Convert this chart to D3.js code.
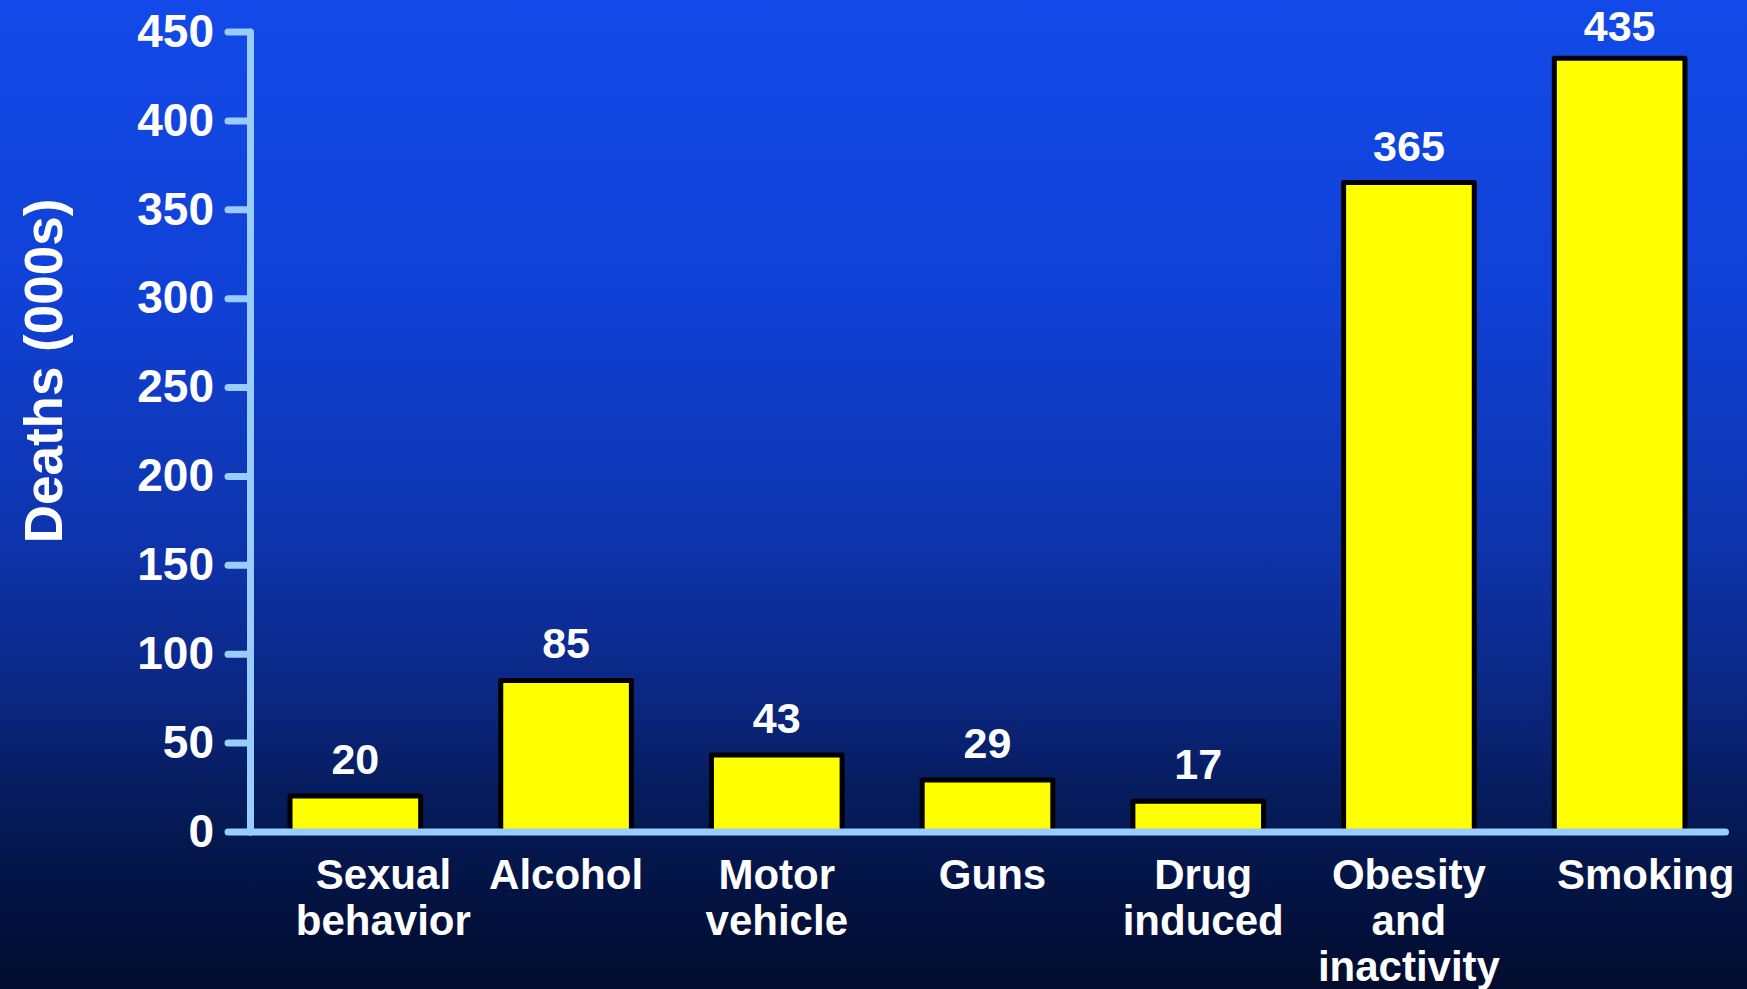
<!DOCTYPE html>
<html>
<head>
<meta charset="utf-8">
<script src="https://cdn.jsdelivr.net/npm/d3@7"></script>
<style>
  html, body { margin: 0; padding: 0; background: #020c2e; }
  svg { display: block; }
  text { font-family: "Liberation Sans", Arial, Helvetica, sans-serif; font-weight: bold; fill: #ffffff; }
</style>
</head>
<body>
<svg id="chart" width="1747" height="989"></svg>
<script>
// Deaths attributable to each cause, in thousands
const categories = [
  ["Sexual", "behavior"],
  ["Alcohol"],
  ["Motor", "vehicle"],
  ["Guns"],
  ["Drug", "induced"],
  ["Obesity", "and", "inactivity"],
  ["Smoking"]
];
const deaths = [20, 85, 43, 29, 17, 365, 435];
const yTicks = [0, 50, 100, 150, 200, 250, 300, 350, 400, 450];
const yTitle = "Deaths (000s)";

const W = 1747, H = 989;
const svg = d3.select("#chart");

// Background: bright blue at the top fading to deep navy
const defs = svg.append("defs");
const grad = defs.append("linearGradient")
  .attr("id", "bg").attr("x1", 0).attr("y1", 0).attr("x2", 0).attr("y2", 1);
[
  [0.00, "#1249e8"],
  [0.30, "#1041d6"],
  [0.55, "#0e34ac"],
  [0.70, "#0b2782"],
  [0.80, "#061c5e"],
  [0.90, "#031343"],
  [1.00, "#020c2e"]
].forEach(([o, c]) => grad.append("stop").attr("offset", o).attr("stop-color", c));
svg.append("rect").attr("width", W).attr("height", H).attr("fill", "url(#bg)");

const axisColor = "#99ccff";
const x0 = 250, x1 = 1725, yBase = 831.5, yTop = 31.5;

const keys = categories.map(c => c.join(" "));
const x = d3.scaleBand().domain(keys).range([x0, x1]).paddingInner(0.38).paddingOuter(0.19);
const y = d3.scaleLinear().domain([0, 450]).range([yBase, yTop]);

// Bars
svg.append("g").selectAll("rect")
  .data(deaths)
  .join("rect")
  .attr("x", (d, i) => x(keys[i]))
  .attr("y", d => y(d))
  .attr("width", x.bandwidth())
  .attr("height", d => y(0) - y(d))
  .attr("fill", "#ffff00")
  .attr("stroke", "#000000")
  .attr("stroke-width", 5)
  .attr("stroke-linejoin", "round");

// Value labels above each bar, kept inside the top edge
svg.append("g").selectAll("text")
  .data(deaths)
  .join("text")
  .attr("x", (d, i) => x(keys[i]) + x.bandwidth() / 2)
  .attr("y", d => Math.max(y(d) - 22, 41))
  .attr("text-anchor", "middle")
  .attr("font-size", 43)
  .text(d => d);

// Y axis
const yAxis = svg.append("g")
  .attr("transform", `translate(${x0},0)`)
  .call(d3.axisLeft(y).tickValues(yTicks).tickSize(22).tickPadding(14).tickSizeOuter(0));
yAxis.select(".domain").attr("stroke", axisColor).attr("stroke-width", 7).attr("stroke-linecap", "round");
yAxis.selectAll(".tick line").attr("stroke", axisColor).attr("stroke-width", 7).attr("stroke-linecap", "round");
yAxis.selectAll(".tick text")
  .attr("font-size", 46)
  .attr("font-family", "'Liberation Sans', Arial, sans-serif")
  .attr("font-weight", "bold")
  .attr("fill", "#ffffff");

// X axis baseline drawn over the bar bottoms
const labelNudge = { "Sexual behavior": 28, "Smoking": 26, "Guns": 5, "Drug induced": 5 };
const xAxis = svg.append("g")
  .attr("transform", `translate(0,${yBase})`)
  .call(d3.axisBottom(x).tickSize(0).tickSizeOuter(0).tickFormat(""));
xAxis.select(".domain").attr("stroke", axisColor).attr("stroke-width", 7).attr("stroke-linecap", "round");
xAxis.selectAll(".tick text").remove();

// Multi-line category labels
const labels = svg.append("g");
categories.forEach((lines, i) => {
  const cx = x(keys[i]) + x.bandwidth() / 2 + (labelNudge[keys[i]] || 0);
  const t = labels.append("text")
    .attr("text-anchor", "middle")
    .attr("font-size", 42)
    .attr("x", cx)
    .attr("y", yBase + 57);
  lines.forEach((ln, j) => {
    t.append("tspan").attr("x", cx).attr("dy", j === 0 ? 0 : 46).text(ln);
  });
});

// Y axis title
svg.append("text")
  .attr("transform", `translate(62,371) rotate(-90)`)
  .attr("text-anchor", "middle")
  .attr("font-size", 53)
  .text(yTitle);
</script>
</body>
</html>
